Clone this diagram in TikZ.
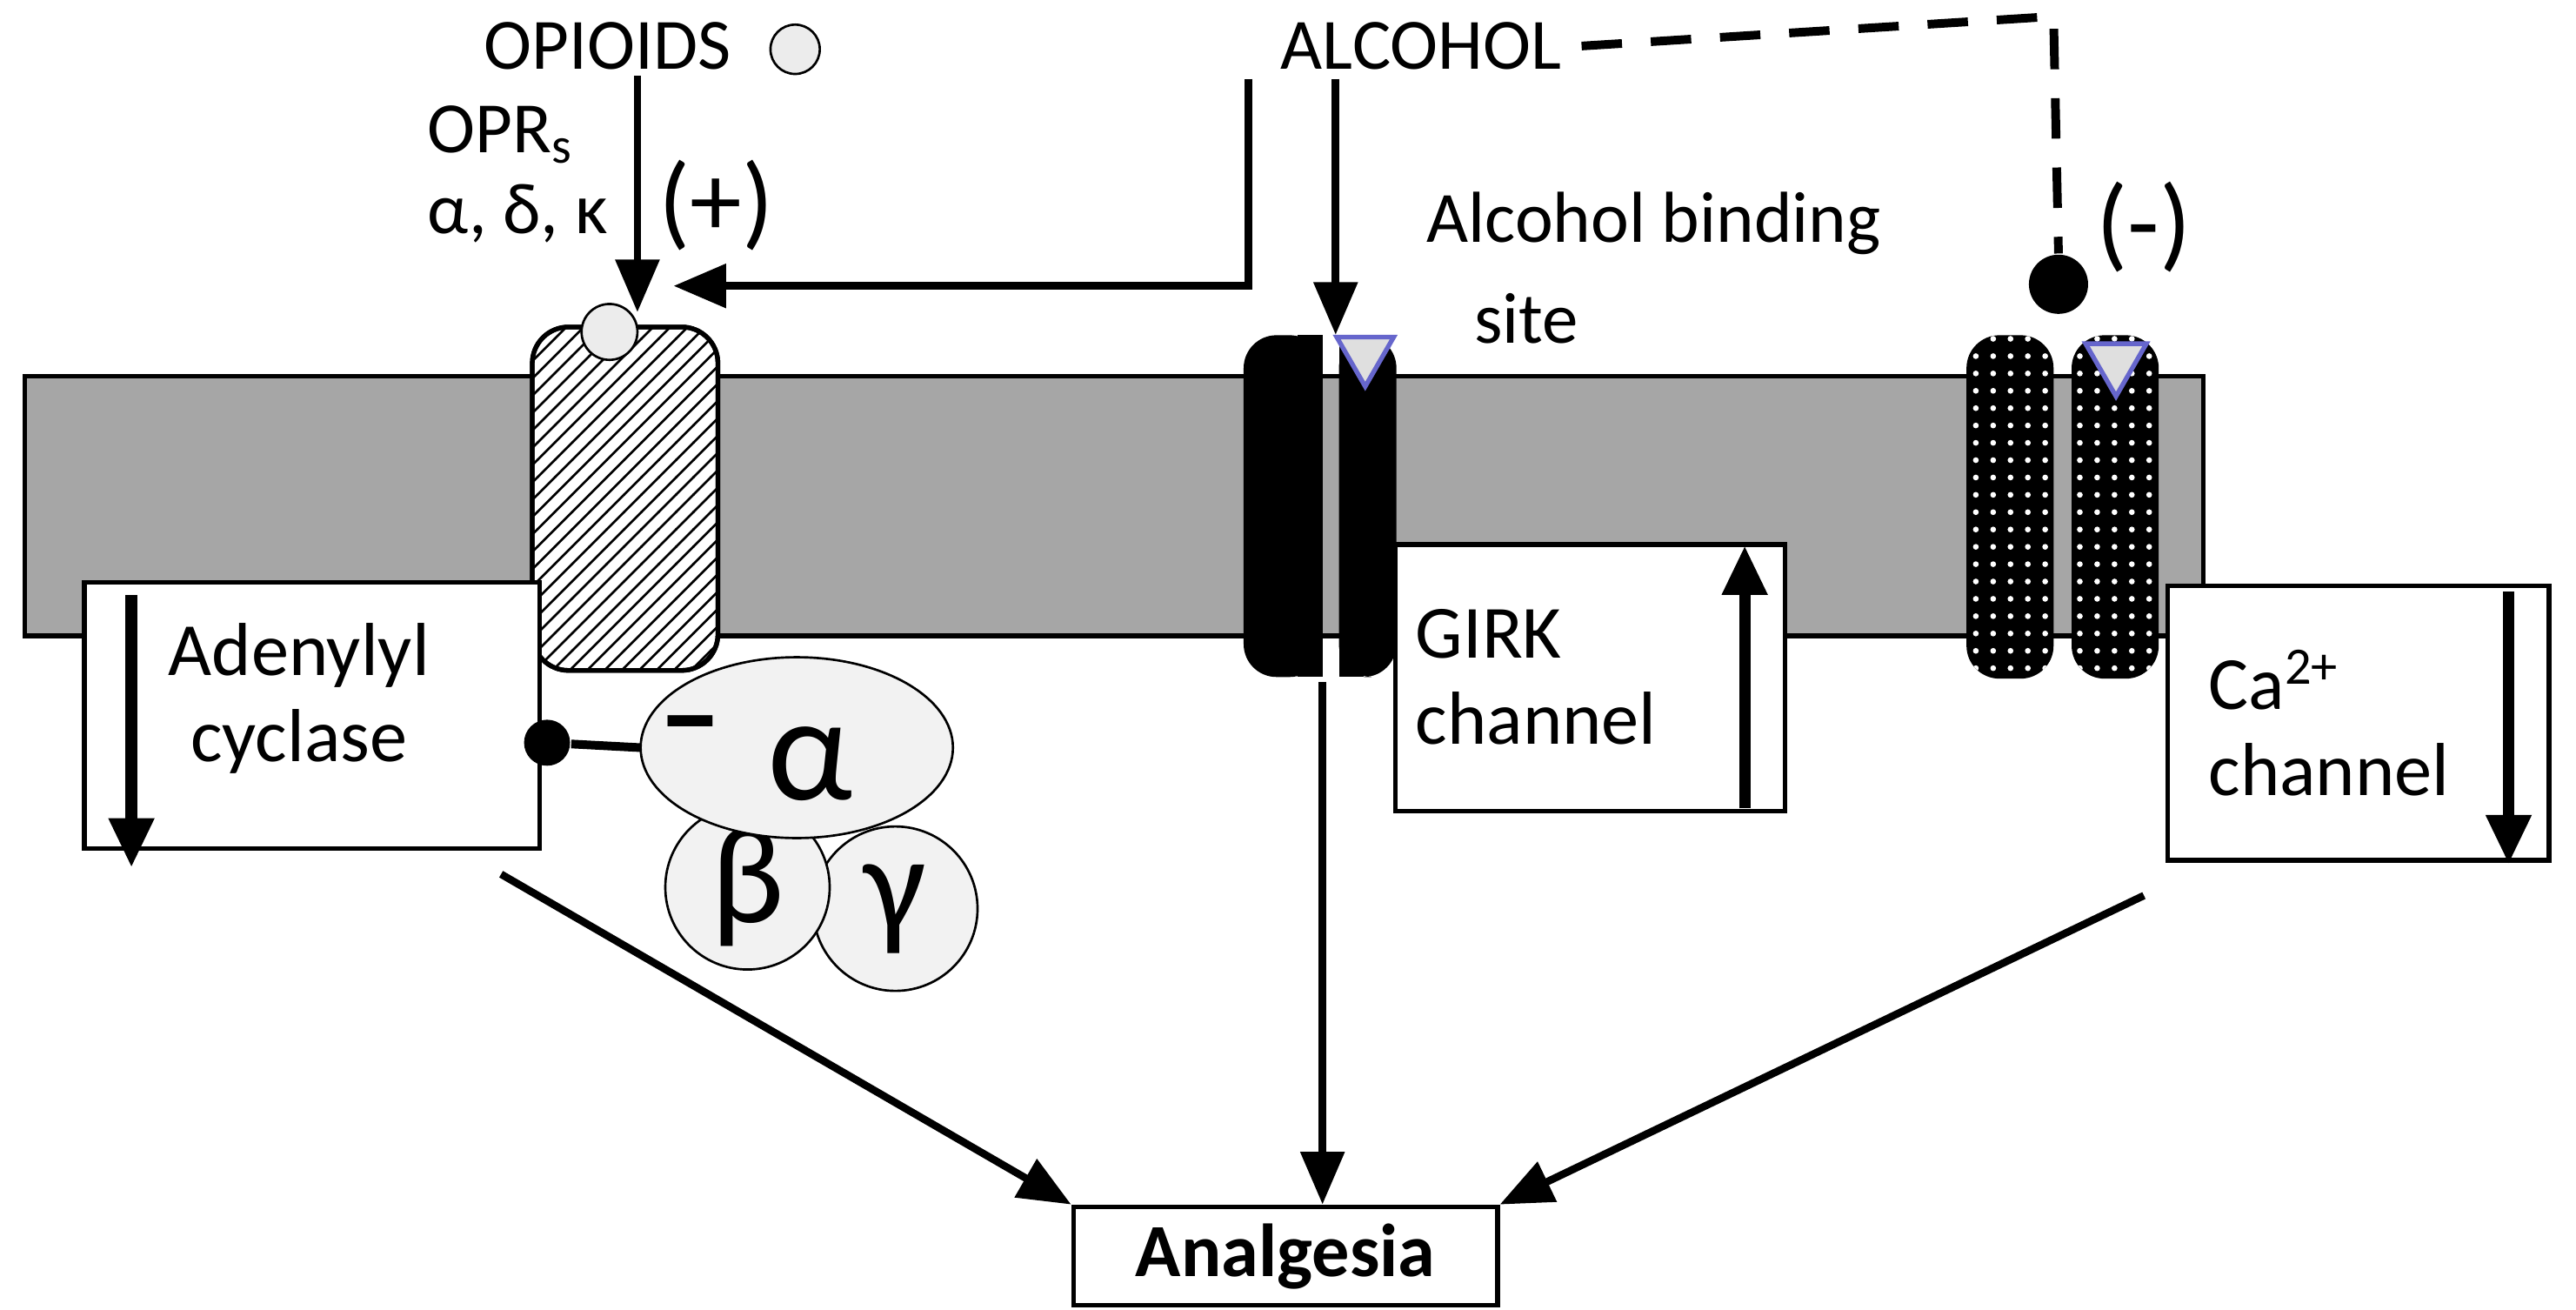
\documentclass[tikz,border=0pt]{standalone}
\usepackage{fontspec}
\setmainfont{Carlito}
\usetikzlibrary{arrows.meta,patterns,shapes.geometric}
\begin{document}
\begin{tikzpicture}[x=0.01cm,y=-0.01cm,
  arr/.style={line width=1.3pt,-{Triangle[length=0.32cm,width=0.26cm]}},
  thk/.style={line width=2pt,-{Triangle[length=0.3cm,width=0.26cm]}},
  box/.style={draw,line width=0.8pt,fill=white,inner sep=0pt},
  txt/.style={font=\fontsize{13}{15}\selectfont,align=left}]
\useasboundingbox (0,0) rectangle (1568,797);
% membrane
\draw[fill=gray!70,line width=0.8pt] (15,229) rectangle (1341,387);
% OPR receptor
\draw[line width=0.8pt,fill=white,rounded corners=0.22cm] (324,199) rectangle (437,408);
\fill[pattern=north east lines,rounded corners=0.22cm] (324,199) rectangle (437,408);
\draw[line width=0.8pt,rounded corners=0.22cm] (324,199) rectangle (437,408);
\node[circle,draw,fill=gray!15,minimum size=0.34cm,inner sep=0pt] (lig) at (371,202) {};
% GIRK channel
\fill[black,rounded corners=0.2cm] (757,204) rectangle (805,412);
\fill[black,rounded corners=0.2cm] (815,204) rectangle (850,412);
\fill[black] (790,204) rectangle (805,412);
\fill[black] (815,204) rectangle (830,412);
\node[isosceles triangle,isosceles triangle apex angle=60,shape border rotate=-90,draw=blue!50!gray!80,fill=gray!25,line width=0.8pt,minimum size=0.3cm,inner sep=0pt,anchor=apex] (tg) at (831,238) {};
% Ca channel
\fill[black,rounded corners=0.2cm] (1197,204) rectangle (1250,413);
\fill[black,rounded corners=0.2cm] (1261,204) rectangle (1314,413);
\fill[pattern=dots,pattern color=white,rounded corners=0.2cm] (1197,204) rectangle (1250,413);
\fill[pattern=dots,pattern color=white,rounded corners=0.2cm] (1261,204) rectangle (1314,413);
\node[isosceles triangle,isosceles triangle apex angle=60,shape border rotate=-90,draw=blue!50!gray!80,fill=gray!25,line width=0.8pt,minimum size=0.32cm,inner sep=0pt,anchor=apex] (tc) at (1288,244) {};
% boxes
\node[box,minimum width=2.77cm,minimum height=1.62cm,anchor=north west] (ac) at (50,353) {};
\node[txt,align=center] at (182,425) {Adenylyl\\cyclase};
\node[box,minimum width=2.37cm,minimum height=1.62cm,anchor=north west] (girk) at (848,330) {};
\node[txt] at (935,412) {GIRK\\channel};
\node[box,minimum width=2.32cm,minimum height=1.67cm,anchor=north west] (ca) at (1318,355) {};
\node[txt,anchor=west] at (1332,440) {Ca\textsuperscript{2+}\\channel};
\node[box,minimum width=2.58cm,minimum height=0.6cm,anchor=north west,font=\fontsize{13}{15}\selectfont\bfseries] (an) at (652,733) {Analgesia};
% inner arrows
\draw[thk] (80,362) -- (80,528);
\draw[thk] (1062,492) -- (1062,332);
\draw[thk] (1527,360) -- (1527,526);
% G protein
\node[circle,draw,fill=gray!10,minimum size=1.0cm,inner sep=0pt] (gam) at (545,553) {\fontsize{24}{24}\selectfont γ};
\node[circle,draw,fill=gray!10,minimum size=1.0cm,inner sep=0pt] (bet) at (455,540) {\fontsize{24}{24}\selectfont β};
\node[ellipse,draw,fill=gray!10,minimum width=1.9cm,minimum height=1.1cm,inner sep=0pt] (alp) at (485,455) {};
\node at (493,465) {\fontsize{26}{26}\selectfont α};
\node at (420,448) {\fontsize{22}{22}\selectfont\bfseries –};
\node[circle,fill=black,minimum size=0.28cm,inner sep=0pt] (inh) at (333,452) {};
\draw[line width=1.5pt] (inh) -- (390,455);
% top texts
\node[font=\fontsize{12.5}{14}\selectfont] (op) at (370,28) {OPIOIDS};
\node[circle,draw,fill=gray!15,minimum size=0.3cm,inner sep=0pt] (opc) at (484,30) {};
\node[font=\fontsize{12.5}{14}\selectfont] (al) at (865,28) {ALCOHOL};
\node[font=\fontsize{12.5}{14}\selectfont,anchor=west] at (248,82) {OPR\textsubscript{s}};
\node[font=\fontsize{12.5}{14}\selectfont,anchor=west] at (248,130) {α, δ, κ};
\node[font=\fontsize{18}{20}\selectfont] at (436,125) {(+)};
\node[font=\fontsize{18}{20}\selectfont] at (1305,138) {(-)};
\node[font=\fontsize{12.5}{14}\selectfont,anchor=west] at (856,136) {Alcohol binding};
\node[font=\fontsize{12.5}{14}\selectfont,anchor=west] at (885,194) {site};
% connectors
\coordinate (o1) at (388,46);
\coordinate (o2) at (388,190);
\draw[arr] (o1) -- (o2);
\coordinate (a1) at (760,48);
\coordinate (a2) at (410,174);
\draw[arr] (a1) |- (a2);
\coordinate (b1) at (813,48);
\draw[arr] (b1) -- (tg.north -| b1);
\node[circle,fill=black,minimum size=0.36cm,inner sep=0pt] (blk) at (1253,173) {};
\draw[line width=1.5pt,dash pattern=on 7pt off 5pt] (al.east) -- (1250,10) -- (blk.north);
\draw[arr] (305,532) -- (an.north west);
\draw[arr] (805,415) -- (805,733);
\draw[arr] (1305,545) -- (an.north east);
\end{tikzpicture}
\end{document}
